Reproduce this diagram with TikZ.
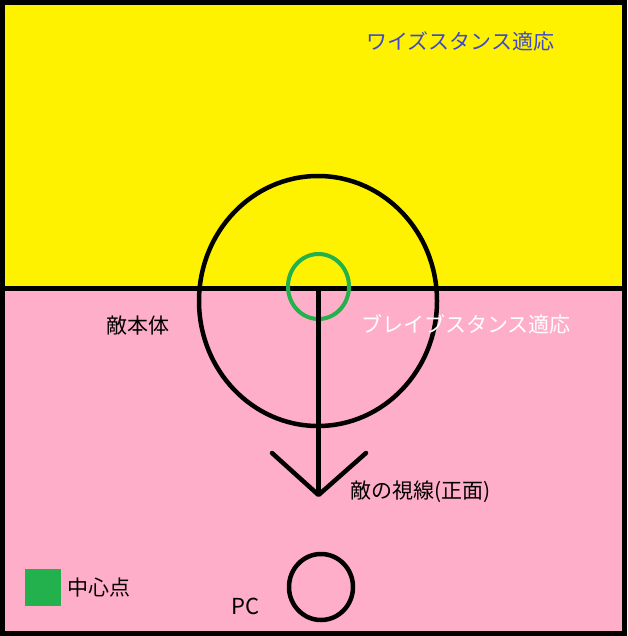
\documentclass[tikz,border=0pt]{standalone}
\usepackage{fontspec}
\usetikzlibrary{shapes.geometric}
\setmainfont{Noto Sans CJK JP}
\definecolor{pyellow}{RGB}{255,242,0}
\definecolor{ppink}{RGB}{255,174,201}
\definecolor{pgreen}{RGB}{34,177,76}
\definecolor{pindigo}{RGB}{63,72,204}
\begin{document}
\begin{tikzpicture}[x=1pt,y=-1pt,
  lbl/.style={inner sep=0pt,font=\fontsize{21}{21}\selectfont},
  blk/.style={draw=black,line width=4.5pt}]
\useasboundingbox (0,0) rectangle (627,636);
\fill[pyellow] (0,0) rectangle (627,288.5);
\fill[ppink] (0,288.5) rectangle (627,636);
\draw[line width=5pt] (2.5,2.5) rectangle (624.5,633.5);
\coordinate (dl) at (0,288.5);
\coordinate (dr) at (627,288.5);
\draw[line width=4.5pt] (dl) -- (dr);
% enemy body
\node[blk,ellipse,minimum width=238pt,minimum height=250pt,inner sep=0pt] (body) at (318,301) {};
\node[draw=pgreen,line width=4pt,ellipse,minimum width=61pt,minimum height=65pt,inner sep=0pt] (ctr) at (318.5,286.5) {};
\coordinate (top) at (318.5,288.5);
\coordinate (tip) at (318.5,495);
\coordinate (la) at (272,453);
\coordinate (ra) at (366,453);
\draw[line width=4.5pt] (top) -- (tip);
\draw[line width=4.5pt,line cap=round,line join=round] (la) -- (tip) -- (ra);
% PC
\node[blk,ellipse,minimum width=64pt,minimum height=66pt,inner sep=0pt] (pc) at (321,587) {};
% legend
\node[fill=pgreen,minimum width=36pt,minimum height=37pt,inner sep=0pt] (leg) at (43,587.5) {};
% texts
\node[lbl,text=pindigo,anchor=west] (wise) at (366,41) {ワイズスタンス適応};
\node[lbl,text=white,anchor=west] (brave) at (361,324) {ブレイブスタンス適応};
\node[lbl,anchor=west] (tbody) at (106,326) {敵本体};
\node[lbl,anchor=west] (sight) at (350,492) {敵の視線(正面)};
\node[lbl,anchor=west] (tctr) at (67,588) {中心点};
\node[lbl,anchor=west,font=\fontsize{22}{22}\selectfont] (tpc) at (231,606) {PC};
\end{tikzpicture}
\end{document}
